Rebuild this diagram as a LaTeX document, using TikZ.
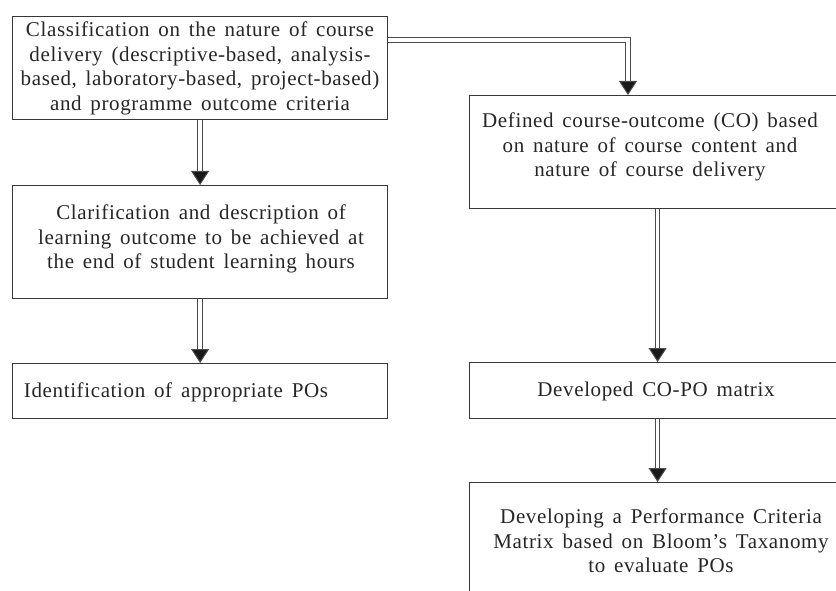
\documentclass[tikz,border=0pt]{standalone}
\usepackage{fontspec}
\setmainfont{Liberation Serif}[LetterSpace=3,WordSpace=1.5]
\usetikzlibrary{arrows.meta,calc}
\definecolor{edge}{RGB}{55,55,55}
\begin{document}
\begin{tikzpicture}[x=1bp,y=-1bp,
  box/.style={draw=edge,line width=1.2bp,rectangle,inner sep=0pt,anchor=north west},
  txt/.style={align=center,inner sep=0pt,anchor=north,text=black!85,
    font=\fontsize{21bp}{24.7bp}\selectfont},
  dbl/.style={draw=edge!90,line width=1bp,double=white,double distance=3.5bp,
    -{Triangle[width=18bp,length=14bp,fill=black!90]}}]
\useasboundingbox (0,0) rectangle (836,591);
\clip (0,0) rectangle (836,591);
% boxes
\node[box,minimum width=375bp,minimum height=103bp] (boxA) at (12,16) {};
\node[box,minimum width=375bp,minimum height=113bp] (boxA2) at (12,185) {};
\node[box,minimum width=375bp,minimum height=55bp] (boxA3) at (12,363) {};
\node[box,minimum width=376bp,minimum height=113bp] (boxB) at (469,95) {};
\node[box,minimum width=376bp,minimum height=56bp] (boxC) at (469,362) {};
\node[box,minimum width=376bp,minimum height=140bp] (boxD) at (469,482) {};
% texts
\node[txt] (tA) at (200,19) {\strut Classification on the nature of course\\\strut delivery (descriptive-based, analysis-\\\strut based, laboratory-based, project-based)\\\strut and programme outcome criteria};
\node[txt] (tA2) at (201,202) {\strut Clarification and description of\\\strut learning outcome to be achieved at\\\strut the end of student learning hours};
\node[txt] (tA3) at (176,380) {\strut Identification of appropriate POs};
\node[txt] (tB) at (650,110) {\strut Defined course-outcome (CO) based\\\strut on nature of course content and\\\strut nature of course delivery};
\node[txt] (tC) at (656,379) {\strut Developed CO-PO matrix};
\node[txt] (tD) at (661,506) {\strut Developing a Performance Criteria\\\strut Matrix based on Bloom's Taxanomy\\\strut to evaluate POs};
% connectors
\draw[dbl] (boxA.south) -- (boxA2.north);
\draw[dbl] (boxA2.south) -- (boxA3.north);
\draw[dbl] ($(boxA.north east)+(0,24)$) -| ($(boxB.north west)+(159,0)$);
\draw[dbl] (boxB.south) -- (boxC.north);
\draw[dbl] (boxC.south) -- (boxD.north);
\end{tikzpicture}
\end{document}
